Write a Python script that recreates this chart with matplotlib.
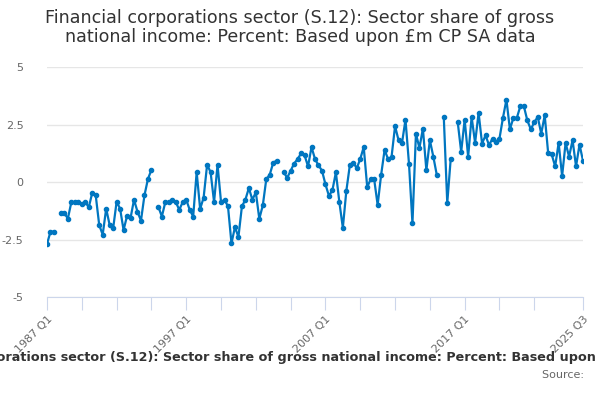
import numpy as np
import matplotlib
matplotlib.use("Agg")
import matplotlib.pyplot as plt

# quarterly series, 1987 Q1 .. 2025 Q3 (None = missing quarter)
start_year = 1987
values = [
    -2.7, -2.16, -2.16, None, -1.36, -1.36, -1.59, -0.87, -0.87, -0.87,
    -0.97, -0.87, -1.1, -0.47, -0.58, -1.87, -2.29, -1.16, -1.87, -2.02,
    -0.86, -1.16, -2.09, -1.47, -1.57, -0.77, -1.29, -1.68, -0.58, 0.13,
    0.53, None, -1.08, -1.5, -0.87, -0.87, -0.77, -0.87, -1.21, -0.87,
    -0.77, -1.21, -1.5, 0.43, -1.17, -0.68, 0.75, 0.43, -0.87, 0.75,
    -0.87, -0.77, -1.06, -2.67, -1.96, -2.39, -1.06, -0.77, -0.26, -0.77,
    -0.45, -1.6, -1.02, 0.12, 0.32, 0.84, 0.93, None, 0.43, 0.18,
    0.49, 0.8, 1.0, 1.24, 1.16, 0.68, 1.52, 1.0, 0.72, 0.5,
    -0.1, -0.6, -0.36, 0.42, -0.88, -1.99, -0.39, 0.72, 0.84, 0.6,
    1.0, 1.52, -0.22, 0.12, 0.12, -1.0, 0.31, 1.4, 0.99, 1.1,
    2.43, 1.82, 1.7, 2.71, 0.8, -1.8, 2.1, 1.48, 2.32, 0.51,
    1.82, 1.1, 0.3, None, 2.83, -0.91, 1.02, None, 2.61, 1.31,
    2.71, 1.1, 2.83, 1.7, 3.01, 1.67, 2.03, 1.6, 1.89, 1.74,
    1.89, 2.79, 3.58, 2.29, 2.79, 2.79, 3.3, 3.3, 2.68, 2.29,
    2.6, 2.83, 2.1, 2.9, 1.24, 1.2, 0.68, 1.7, 0.26, 1.7,
    1.1, 1.82, 0.68, 1.63, 0.92,
]
labels = ["%d Q%d" % (start_year + i // 4, i % 4 + 1) for i in range(len(values))]
y_ticks = [-5, -2.5, 0, 2.5, 5]
title = ("Financial corporations sector (S.12): Sector share of gross\n"
         "national income: Percent: Based upon £m CP SA data")
footer = ("Financial corporations sector (S.12): Sector share of gross national income: "
          "Percent: Based upon £m CP SA data")

y = np.array([np.nan if v is None else v for v in values], dtype=float)
x = np.arange(len(y))

fig = plt.figure(figsize=(6, 4), dpi=100)
ax = fig.add_axes([47 / 600, 1 - 297 / 400, 536 / 600, 230 / 400])

ax.plot(x, y, color="#0076c0", lw=1.6, marker="o", ms=3.0, zorder=3)

ax.set_xlim(0, len(y) - 1)
ax.set_ylim(-5, 5)
ax.set_yticks(y_ticks)
ax.set_yticklabels(["-5", "-2.5", "0", "2.5", "5"])
ax.grid(axis="y", color="#e6e6e6", lw=1)
ax.set_axisbelow(True)

# tick every 10 quarters, labels every 10 years plus the last quarter
tick_pos = list(range(0, len(y) - 5, 10)) + [len(y) - 1]
ax.set_xticks(tick_pos)
ax.set_xticklabels([labels[i] if (i % 40 == 0 or i == len(y) - 1) else "" for i in tick_pos],
                   rotation=45, ha="right", rotation_mode="anchor")

for s in ["top", "right", "left"]:
    ax.spines[s].set_visible(False)
ax.spines["bottom"].set_color("#ccd6eb")
ax.tick_params(axis="x", length=9, color="#ccd6eb", labelsize=8, labelcolor="#666666", pad=3)
ax.tick_params(axis="y", length=0, labelsize=8, labelcolor="#666666", pad=17)

fig.text(0.5, 1 - 9 / 400, title, ha="center", va="top", fontsize=12.6,
         color="#333333", linespacing=1.1)
fig.text(0.5, 1 - 358 / 400, footer, ha="center", va="center", fontsize=9.2,
         fontweight="bold", color="#333333")
fig.text(588 / 600, 1 - 375 / 400, "Source: ", ha="right", va="center", fontsize=8,
         color="#666666")

fig.savefig("out.png", dpi=100)
